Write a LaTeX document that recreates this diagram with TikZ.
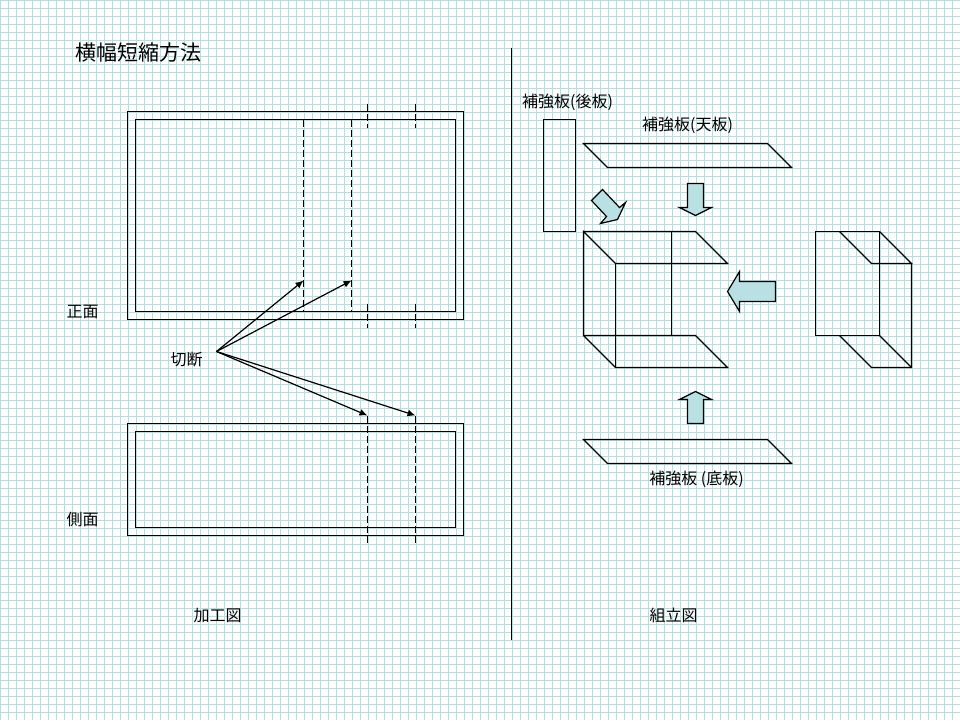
\documentclass[tikz,border=0pt]{standalone}
\usepackage{fontspec}
\setmainfont{Noto Sans CJK JP}
\usetikzlibrary{arrows.meta}
\definecolor{gridblue}{HTML}{B2DFE3}
\definecolor{arrowfill}{HTML}{B9E0E3}
\tikzset{
  gridline/.style={gridblue,line width=1.3pt},
  cutline/.style={dash pattern=on 7pt off 3pt},
  cutarrow/.style={-{Latex[length=8pt,width=7pt]}},
  blockarrow/.style={draw=black,fill=arrowfill},
  caption/.style={inner sep=0pt,font=\fontsize{16}{16}\selectfont},
}
\begin{document}
\begin{tikzpicture}[x=1pt,y=-1pt,line width=1.2pt]
\useasboundingbox (0.5,0.5) rectangle (960.5,720.5);
%%Grid
\foreach \gx in {1,9,...,953} \draw[gridline] (\gx,0.5) -- (\gx,720.5);
\foreach \gy in {1,9,...,713} \draw[gridline] (0.5,\gy) -- (960.5,\gy);
%%Front
\draw (128,112) rectangle (464,320);
\draw (136,120) rectangle (456,312);
\draw[cutline] (304,120) -- (304,312);
\draw[cutline] (352,120) -- (352,312);
\draw[cutline] (368,104) -- (368,128);
\draw[cutline] (416,104) -- (416,128);
\draw[cutline] (368,304) -- (368,328);
\draw[cutline] (416,304) -- (416,328);
%%Side
\draw (128,424) rectangle (464,536);
\draw (136,432) rectangle (456,528);
\draw[cutline] (368,416) -- (368,544);
\draw[cutline] (416,416) -- (416,544);
%%Divider
\draw (512,48) -- (512,640);
%%Cut arrows
\coordinate (cutstart) at (217,352);
\coordinate (cutA) at (304,281);
\coordinate (cutB) at (352,281);
\coordinate (cutC) at (368,416);
\coordinate (cutD) at (416,416);
\foreach \tgt in {cutA,cutB,cutC,cutD}
  \draw[cutarrow] (cutstart) -- (\tgt);
%%Back plate
\draw (544,120) rectangle (576,232);
%%Top and bottom plates
\draw (584,144) -- (768,144) -- (792,168) -- (608,168) -- cycle;
\draw (584,440) -- (768,440) -- (792,464) -- (608,464) -- cycle;
%%Open box
\draw (584,232) -- (696,232) -- (728,264) -- (616,264) -- (584,232) -- (584,336) -- (696,336) -- (728,368) -- (616,368) -- (584,336);
\draw (616,264) -- (616,368);
\draw (672,232) -- (672,336);
%%Narrow box
\draw (816,232) rectangle (880,336);
\draw (840,232) -- (872,264) -- (912,264) -- (880,232);
\draw (912,264) -- (912,368) -- (872,368) -- (840,336);
\draw (880,336) -- (912,368);
%%Block arrows
\draw[blockarrow] (603,190) -- (620,208) -- (626,203) -- (618,220) -- (601,224) -- (607,217) -- (592,201) -- cycle;
\draw[blockarrow] (688,184) -- (704,184) -- (704,208) -- (712,208) -- (696,216) -- (680,208) -- (688,208) -- cycle;
\draw[blockarrow] (776,282) -- (776,302) -- (740,302) -- (740,312) -- (728,292) -- (740,272) -- (740,282) -- cycle;
\draw[blockarrow] (688,424) -- (704,424) -- (704,400) -- (712,400) -- (696,392) -- (680,400) -- (688,400) -- cycle;
%%Label
\node[inner sep=0pt,font=\fontsize{21}{21}\selectfont] (title) at (139,53.5) {横幅短縮方法};
\node[caption] (front) at (83,312) {正面};
\node[caption] (side) at (83,520) {側面};
\node[caption] (cut) at (187,360) {切断};
\node[caption] (machining) at (218,616) {加工図};
\node[caption] (assembly) at (674,616) {組立図};
\node[caption] (backlabel) at (568,103) {補強板(後板)};
\node[caption] (toplabel) at (688,126) {補強板(天板)};
\node[caption] (bottomlabel) at (697,480) {補強板 (底板)};
\end{tikzpicture}
\end{document}
